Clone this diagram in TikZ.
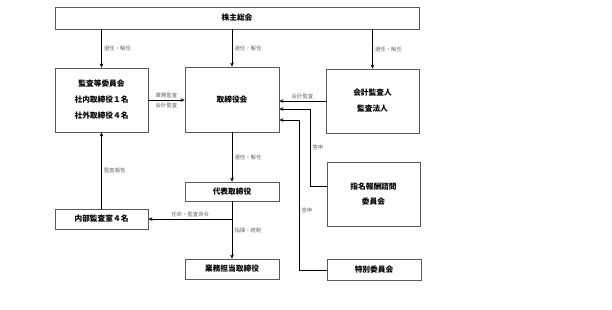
\documentclass[tikz,border=0pt]{standalone}
\usepackage{fontspec}
\setmainfont{Noto Sans CJK JP}
\usetikzlibrary{arrows.meta}

\tikzset{
	box/.style={draw=black!65,line width=0.8pt,fill=white,align=center,
		font=\bfseries\fontsize{7.7}{16}\selectfont,inner sep=0pt},
	arr/.style={-{Stealth[length=4pt,width=3.6pt]},line width=1pt},
	lbl/.style={font=\fontsize{5.4}{6}\selectfont,text=black!60,inner sep=2pt}
}

\begin{document}
\begin{tikzpicture}[x=1pt,y=-1pt]
	\useasboundingbox (0,0) rectangle (612,309);
	
	\node[box,minimum width=364,minimum height=22] (soukai) at (237,18){株主総会};
	\node[box,minimum width=93,minimum height=64] (kansa) at (101.5,100){監査等委員会\\社内取締役１名\\社外取締役４名};
	\node[box,minimum width=94,minimum height=65] (torishimari) at (232,99.5){取締役会};
	\node[box,minimum width=93,minimum height=64] (kaikei) at (372.5,101){会計監査人\\監査法人};
	\node[box,minimum width=93,minimum height=64,font=\bfseries\fontsize{7.7}{15}\selectfont] (shimei) at (373.5,194){指名報酬諮問\\委員会};
	\node[box,minimum width=94,minimum height=19] (daihyo) at (232,191.5){代表取締役};
	\node[box,minimum width=93,minimum height=20] (naibu) at (101.5,219){内部監査室４名};
	\node[box,minimum width=94,minimum height=20] (gyomu) at (232,269){業務担当取締役};
	\node[box,minimum width=94,minimum height=21] (tokubetsu) at (374,269.5){特別委員会};
	
	% senin kainin
	\draw[arr] (kansa.north |- soukai.south) -- (kansa.north) node[midway,right,lbl]{選任・解任};
	\draw[arr] (torishimari.north |- soukai.south) -- (torishimari.north) node[midway,right,lbl]{選任・解任};
	\draw[arr] (kaikei.north |- soukai.south) -- (kaikei.north) node[midway,right,lbl]{選任・解任};
	\draw[arr] (torishimari.south) -- (daihyo.north) node[midway,right,lbl]{選任・解任};
	
	% kansa
	\draw[arr] (kansa.east) -- (kansa.east -| torishimari.west)
		node[midway,above,lbl]{業務監査} node[midway,below,lbl]{会計監査};
	\draw[arr] (kaikei.west) -- (kaikei.west -| torishimari.east) node[midway,above,lbl]{会計監査};
	\draw[arr] (naibu.north) -- (kansa.south) node[midway,right,lbl]{監査報告};
	
	% toushin
	\coordinate (kado1) at (310,186);
	\coordinate (tosin1) at (310,109);
	\draw[arr] (kado1 -| shimei.west) -- (kado1) -- (tosin1) node[midway,right,lbl]{答申} -- (tosin1 -| torishimari.east);
	\coordinate (kado2) at (299,270);
	\coordinate (tosin2) at (299,120);
	\draw[arr] (kado2 -| tokubetsu.west) -- (kado2) -- (tosin2) node[pos=0.4,right,lbl]{答申} -- (tosin2 -| torishimari.east);
	
	% shiki
	\draw[arr] (daihyo.south) -- (gyomu.north) node[midway,right,lbl]{指揮・統制};
	\coordinate (bunki) at (daihyo.south |- naibu.east);
	\draw[arr] (bunki) -- (naibu.east) node[midway,above,lbl]{任命・監査命令};
	
\end{tikzpicture}
\end{document}
